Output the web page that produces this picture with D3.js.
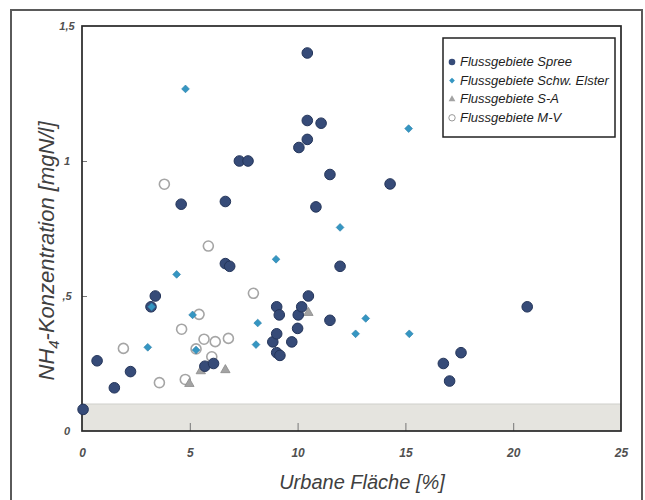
<!DOCTYPE html>
<html><head><meta charset="utf-8">
<script src="https://cdn.jsdelivr.net/npm/d3@7"></script>
<style>body{margin:0;background:#fff}text{font-family:"Liberation Sans",Arial,sans-serif}</style>
</head><body>
<svg id="c" width="645" height="500"></svg>
<script>
// ---- data ----
const xTicks = [0, 5, 10, 15, 20, 25];
const xTickLabels = ["0", "5", "10", "15", "20", "25"];
const yTicks = [0, 0.5, 1, 1.5];
const yTickLabels = ["0", ",5", "1", "1,5"];
const seriesNames = ["Flussgebiete Spree", "Flussgebiete Schw. Elster", "Flussgebiete S-A", "Flussgebiete M-V"];
const bandRange = [0, 0.1];

const spree = [
  [0.05,0.08],[0.7,0.26],[1.5,0.16],[2.25,0.22],[3.2,0.46],[3.4,0.50],[4.6,0.84],
  [5.7,0.24],[6.1,0.25],[6.65,0.85],[6.65,0.62],[6.85,0.61],[7.3,1.0],[7.7,1.0],
  [8.85,0.33],[9.03,0.46],[9.15,0.43],[9.03,0.36],[9.03,0.29],[9.18,0.28],[9.73,0.33],
  [10.0,0.38],[10.03,0.43],[10.19,0.46],[10.5,0.50],[10.06,1.05],[10.45,1.08],[10.45,1.15],
  [11.09,1.14],[10.45,1.40],[10.85,0.83],[11.5,0.95],[11.5,0.41],[11.97,0.61],[14.29,0.915],
  [16.76,0.25],[17.05,0.185],[17.58,0.29],[20.65,0.46]
];
const elster = [
  [3.23,0.46],[3.05,0.31],[4.39,0.58],[4.8,1.267],[5.13,0.43],[5.29,0.30],[8.15,0.40],
  [8.07,0.32],[9.0,0.636],[11.97,0.754],[12.69,0.36],[13.16,0.417],[15.15,1.12],[15.18,0.36]
];
const sa = [
  [4.98,0.175],[5.51,0.222],[6.65,0.226],[10.5,0.438]
];
const mv = [
  [1.92,0.306],[3.59,0.179],[3.82,0.914],[4.62,0.377],[4.79,0.191],[5.43,0.432],[5.29,0.304],
  [5.66,0.34],[6.02,0.275],[6.18,0.331],[6.79,0.343],[5.86,0.685],[7.95,0.51]
];

// ---- chart ----
const svg = d3.select("#c");
const x = d3.scaleLinear([0, 25], [82, 621]);
const y = d3.scaleLinear([0, 1.5], [431, 26]);
const font = '"Liberation Sans",Arial,sans-serif';

// outer frame
svg.append("rect").attr("x", 11).attr("y", 10).attr("width", 631).attr("height", 495)
  .attr("fill", "none").attr("stroke", "#5a5a5a").attr("stroke-width", 2);

// gray band
svg.append("rect").attr("x", x(0)).attr("y", y(bandRange[1]))
  .attr("width", x(25) - x(0)).attr("height", y(bandRange[0]) - y(bandRange[1]))
  .attr("fill", "#e5e4df");
svg.append("line").attr("x1", x(0)).attr("x2", x(25)).attr("y1", y(bandRange[1])).attr("y2", y(bandRange[1]))
  .attr("stroke", "#cfcfcb").attr("stroke-width", 1);

// inner ticks
const gx = svg.append("g").attr("transform", `translate(0,${y(0)})`)
  .call(d3.axisTop(x).tickValues(xTicks.slice(1, -1)).tickSize(8).tickFormat(""));
gx.select(".domain").remove();
gx.selectAll("line").attr("stroke", "#777");
const gy = svg.append("g").attr("transform", `translate(${x(0)},0)`)
  .call(d3.axisRight(y).tickValues(yTicks.slice(1, -1)).tickSize(5).tickFormat(""));
gy.select(".domain").remove();
gy.selectAll("line").attr("stroke", "#777");

// plot frame
svg.append("rect").attr("x", x(0)).attr("y", y(1.5)).attr("width", x(25) - x(0)).attr("height", y(0) - y(1.5))
  .attr("fill", "none").attr("stroke", "#262626").attr("stroke-width", 1.7);

// tick labels
const gxl = svg.append("g").attr("transform", `translate(0,${y(0)})`)
  .call(d3.axisBottom(x).tickValues(xTicks).tickSize(0).tickFormat((d, i) => xTickLabels[i]));
gxl.select(".domain").remove();
gxl.selectAll("text").attr("y", 26).attr("dy", 0)
  .attr("font-family", font).attr("font-size", 12).attr("font-style", "italic").attr("font-weight", "bold").attr("fill", "#505050");
const gyl = svg.append("g").attr("transform", `translate(67,0)`)
  .call(d3.axisLeft(y).tickValues(yTicks).tickSize(0).tickFormat((d, i) => yTickLabels[i]));
gyl.select(".domain").remove();
gyl.selectAll("text").attr("x", 0).attr("dy", "0.32em").attr("text-anchor", "middle")
  .attr("font-family", font).attr("font-size", 11).attr("font-style", "italic").attr("font-weight", "bold").attr("fill", "#505050");

// axis titles
svg.append("text").attr("x", 362).attr("y", 489).attr("text-anchor", "middle")
  .attr("font-size", 20).attr("font-style", "italic").attr("fill", "#404040").text("Urbane Fläche [%]");
const yt = svg.append("text").attr("transform", "translate(54,251) rotate(-90)").attr("text-anchor", "middle")
  .attr("font-size", 22).attr("font-style", "italic").attr("fill", "#404040");
yt.append("tspan").text("NH");
yt.append("tspan").attr("font-size", 15).attr("dy", 5).text("4");
yt.append("tspan").attr("dy", -5).text("-Konzentration [mgN/l]");

// marks
const pts = svg.append("g");
pts.selectAll(".mv").data(mv).join("circle").attr("class", "mv")
  .attr("cx", d => x(d[0])).attr("cy", d => y(d[1])).attr("r", 5)
  .attr("fill", "#fff").attr("stroke", "#a5a5a5").attr("stroke-width", 1.6);
pts.selectAll(".sa").data(sa).join("path").attr("class", "sa")
  .attr("transform", d => `translate(${x(d[0])},${y(d[1])})`)
  .attr("d", d3.symbol(d3.symbolTriangle, 38)).attr("fill", "#a3a3a3").attr("stroke", "#8a8a8a").attr("stroke-width", 0.8);
pts.selectAll(".sp").data(spree).join("circle").attr("class", "sp")
  .attr("cx", d => x(d[0])).attr("cy", d => y(d[1])).attr("r", 5.3)
  .attr("fill", "#364b78").attr("stroke", "#24355a").attr("stroke-width", 1);
pts.selectAll(".el").data(elster).join("path").attr("class", "el")
  .attr("transform", d => `translate(${x(d[0])},${y(d[1])}) rotate(45)`)
  .attr("d", d3.symbol(d3.symbolSquare, 30)).attr("fill", "#3596c2").attr("stroke", "#2a7eaa").attr("stroke-width", 0.6);

// legend
svg.append("rect").attr("x", 443).attr("y", 38).attr("width", 172).attr("height", 99)
  .attr("fill", "#fff").attr("stroke", "#222").attr("stroke-width", 1.5);
const lg = svg.append("g");
const ly0 = 66, lstep = 18.6;
seriesNames.forEach((name, i) => {
  const cy = ly0 + i * lstep - 4;
  if (i === 0) lg.append("circle").attr("cx", 452).attr("cy", cy).attr("r", 3.3).attr("fill", "#364b78");
  if (i === 1) lg.append("path").attr("transform", `translate(452,${cy}) rotate(45)`).attr("d", d3.symbol(d3.symbolSquare, 16)).attr("fill", "#3596c2");
  if (i === 2) lg.append("path").attr("transform", `translate(452,${cy})`).attr("d", d3.symbol(d3.symbolTriangle, 20)).attr("fill", "#a3a3a3");
  if (i === 3) lg.append("circle").attr("cx", 452).attr("cy", cy).attr("r", 3.2).attr("fill", "#fff").attr("stroke", "#999").attr("stroke-width", 1);
  lg.append("text").attr("x", 460).attr("y", ly0 + i * lstep).attr("font-size", 13).attr("font-style", "italic")
    .attr("fill", "#1e1e1e").text(name);
});
</script>
</body></html>
